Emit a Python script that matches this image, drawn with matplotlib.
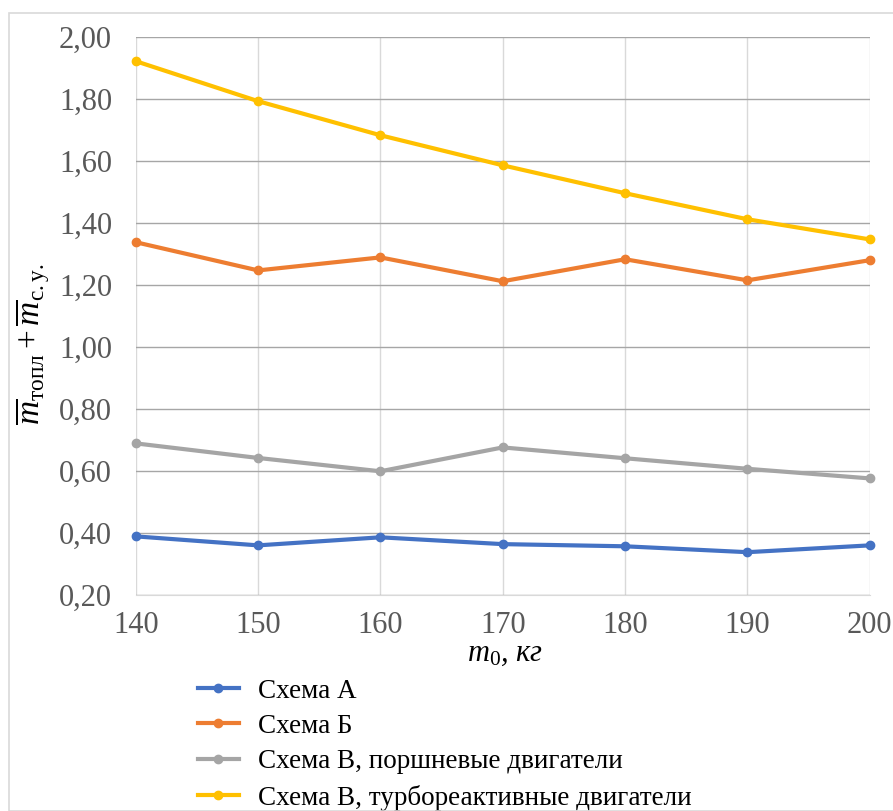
import numpy as np
import matplotlib.pyplot as plt
from matplotlib.patches import Rectangle

plt.rcParams['font.family'] = ['Liberation Serif', 'DejaVu Serif']
plt.rcParams['mathtext.fontset'] = 'custom'
plt.rcParams['mathtext.rm'] = 'Liberation Serif'
plt.rcParams['mathtext.it'] = 'Liberation Serif:italic'

# data
m0 = [140, 150, 160, 170, 180, 190, 200]
scheme_a = [0.390, 0.361, 0.387, 0.365, 0.358, 0.339, 0.361]
scheme_b = [1.339, 1.248, 1.290, 1.213, 1.284, 1.216, 1.281]
scheme_v_piston = [0.690, 0.643, 0.600, 0.677, 0.642, 0.608, 0.577]
scheme_v_turbo = [1.923, 1.794, 1.684, 1.587, 1.497, 1.413, 1.348]

labels = ["Схема А", "Схема Б",
          "Схема В, поршневые двигатели",
          "Схема В, турбореактивные двигатели"]
colors = ["#4472C4", "#ED7D31", "#A5A5A5", "#FFC000"]
yticks = np.arange(0.2, 2.01, 0.2)

fig = plt.figure(figsize=(8.93, 8.11), dpi=100)
ax = fig.add_axes([0.152, 0.266, 0.822, 0.688])

# outer frame as in the source image
fig.patches.append(Rectangle((9 / 893, 0), 1, 1 - 13 / 811, transform=fig.transFigure,
                             fill=False, edgecolor="#d9d9d9", linewidth=1.2))

for ys, lab, c in zip([scheme_a, scheme_b, scheme_v_piston, scheme_v_turbo], labels, colors):
    ax.plot(m0, ys, color=c, linewidth=3, marker="o", markersize=6, label=lab,
            zorder=3, clip_on=False)

ax.set_xlim(140, 200)
ax.set_ylim(0.2, 2.0)
ax.set_xticks(m0)
ax.set_yticks(yticks)
ax.set_yticklabels([f"{v:.2f}".replace(".", ",") for v in yticks])
ax.tick_params(length=0, labelsize=22, labelcolor="#595959")
ax.tick_params(axis="y", pad=17)
ax.tick_params(axis="x", pad=11)

ax.yaxis.grid(True, color="#a6a6a6", linewidth=1.0)
ax.xaxis.grid(True, color="#d9d9d9", linewidth=1.0)
ax.set_axisbelow(True)
for s in ["top", "right", "left"]:
    ax.spines[s].set_visible(False)
ax.spines["bottom"].set_color("#d9d9d9")

ax.set_xlabel(r"$m_0$, кг", fontsize=22, style="italic")
ax.xaxis.set_label_coords(0.503, -0.078)
ax.set_ylabel(r"$\overline{m}_{\mathrm{топл}} + \overline{m}_{\mathrm{с.у.}}$",
              fontsize=24)
ax.yaxis.set_label_coords(-0.114, 0.45)

ax.legend(loc="upper left", bbox_to_anchor=(0.07, -0.13), frameon=False,
          fontsize=19.5, handlelength=1.5, labelspacing=0.38, handletextpad=0.7,
          borderaxespad=0)

fig.savefig("out.png", dpi=100)
